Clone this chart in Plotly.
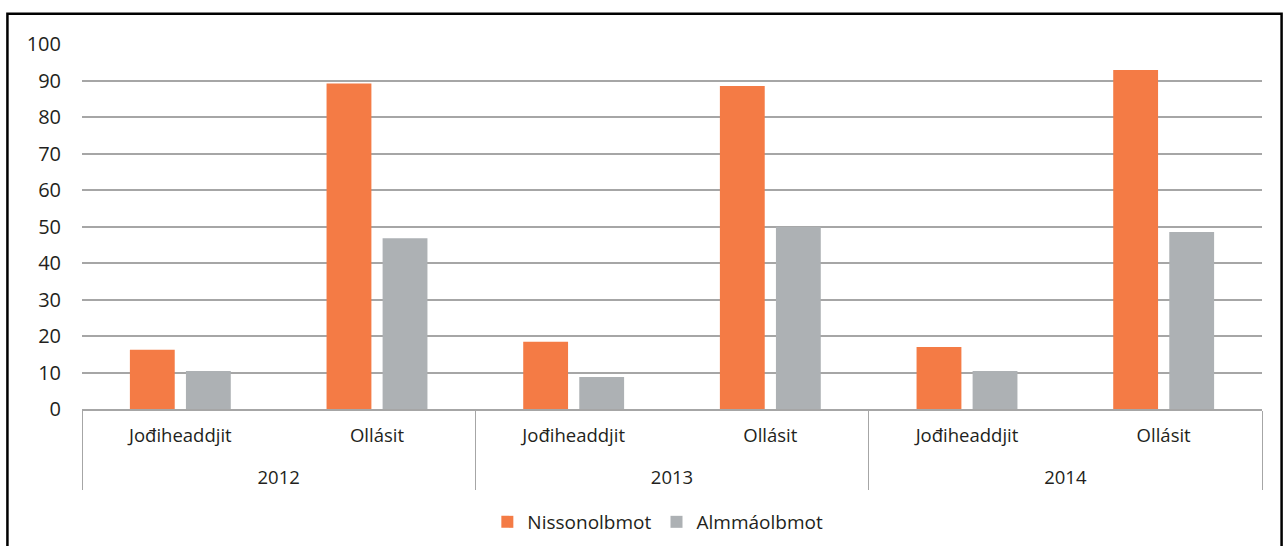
import plotly.graph_objects as go

years = ["2012", "2012", "2013", "2013", "2014", "2014"]
categories = ["Jođiheaddjit", "Ollásit", "Jođiheaddjit", "Ollásit", "Jođiheaddjit", "Ollásit"]
nisson = [16.2, 89.2, 18.4, 88.5, 17.0, 92.9]
almma = [10.4, 46.8, 8.8, 49.9, 10.4, 48.5]
series_names = ["Nissonolbmot", "Almmáolbmot"]
y_ticks = [0, 10, 20, 30, 40, 50, 60, 70, 80, 90, 100]

FONT = "Open Sans"
# leading line break pushes the year level further below the category level
year_labels = ["<br>" + y for y in years]

fig = go.Figure()
fig.add_trace(go.Bar(x=[year_labels, categories], y=nisson, name=series_names[0],
                     marker=dict(color="#F47B45", line=dict(width=0))))
fig.add_trace(go.Bar(x=[year_labels, categories], y=almma, name=series_names[1],
                     marker=dict(color="#ADB1B4", line=dict(width=0))))

fig.update_layout(
    width=1284, height=546,
    margin=dict(l=82, r=22, t=44, b=137, autoexpand=False),
    paper_bgcolor="white", plot_bgcolor="white",
    barmode="group", bargap=0.43, bargroupgap=0.2,
    font=dict(family=FONT, size=19, color="#231F20"),
    showlegend=True,
    legend=dict(orientation="h", x=0.488, xanchor="center", y=0.044, yanchor="middle",
                yref="container", font=dict(size=19), traceorder="normal"),
    xaxis=dict(type="multicategory", showline=True, linecolor="#A6A6A6", linewidth=1.5,
               showgrid=False, ticks="", ticklabelstandoff=9,
               showdividers=True, dividercolor="#A6A6A6",
               dividerwidth=1.2, tickfont=dict(size=18.5), automargin=False),
    yaxis=dict(range=[0, 100], tickvals=y_ticks, showgrid=True, gridcolor="#A6A6A6",
               gridwidth=1.5, zeroline=False, showline=False, ticks="",
               ticklabelstandoff=20, tickfont=dict(size=20), automargin=False),
    shapes=[dict(type="rect", xref="paper", yref="paper",
                 x0=-0.0632, x1=1.0166, y0=-0.45, y1=1.083,
                 line=dict(color="black", width=2.5), fillcolor="rgba(0,0,0,0)")],
)

fig.write_html("out.html", config={"displayModeBar": False},
               post_script="document.body.style.margin='0';document.body.style.padding='0';")
